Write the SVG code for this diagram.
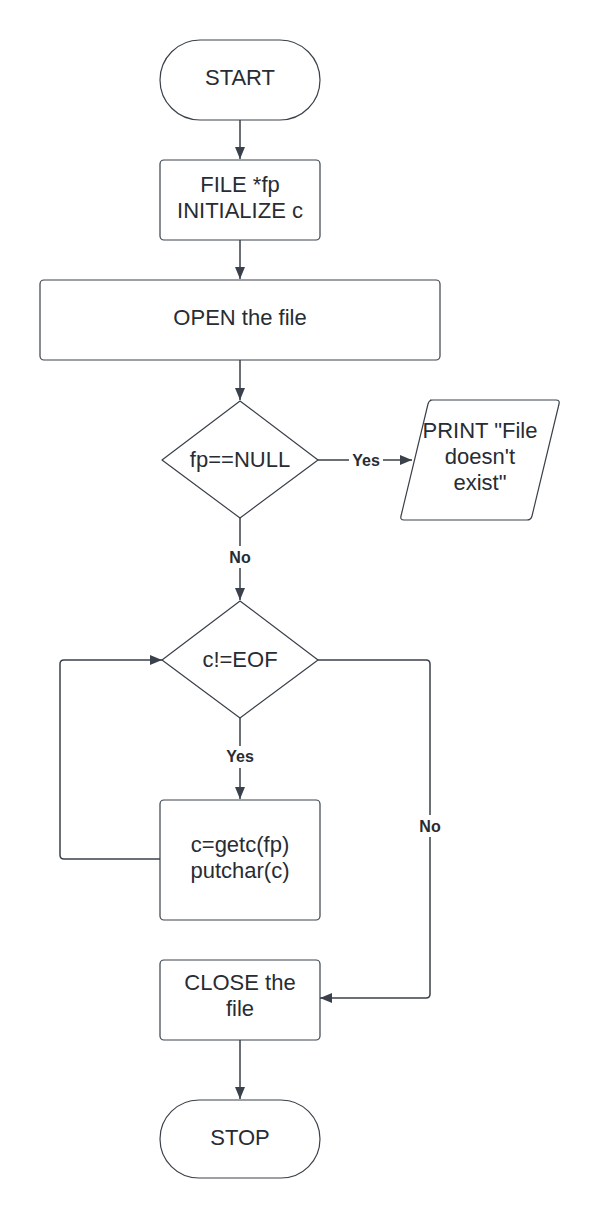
<svg xmlns="http://www.w3.org/2000/svg" width="600" height="1220" viewBox="0 0 600 1220">
<style>
.shape{fill:#ffffff;stroke:#3a414a;stroke-width:1.2}
.conn{fill:none;stroke:#3a414a;stroke-width:1.5}
.t{font-family:"Liberation Sans",Arial,sans-serif;font-size:22px;fill:#282c33;text-anchor:middle}
.lbl{font-family:"Liberation Sans",Arial,sans-serif;font-size:16px;font-weight:bold;fill:#282c33;text-anchor:middle}
.lblbg{fill:#ffffff}
</style>
<defs>
<marker id="arr" viewBox="0 0 12 10" refX="12" refY="5" markerWidth="12" markerHeight="10" markerUnits="userSpaceOnUse" orient="auto">
<path d="M0,0 L12,5 L0,10 Z" fill="#3a414a"/>
</marker>
</defs>
<rect width="600" height="1220" fill="#ffffff"/>
<g id="connectors">
<path class="conn" d="M240,120 L240,159" marker-end="url(#arr)"/>
<path class="conn" d="M240,240 L240,279" marker-end="url(#arr)"/>
<path class="conn" d="M240,360 L240,400" marker-end="url(#arr)"/>
<path class="conn" d="M318,460 L412,460" marker-end="url(#arr)"/>
<rect class="lblbg" x="349" y="450" width="34" height="20"/>
<text class="lbl" x="366" y="466">Yes</text>
<path class="conn" d="M240,518 L240,600" marker-end="url(#arr)"/>
<rect class="lblbg" x="226" y="546" width="28" height="22"/>
<text class="lbl" x="240" y="563">No</text>
<path class="conn" d="M240,718 L240,799" marker-end="url(#arr)"/>
<rect class="lblbg" x="222" y="746" width="36" height="22"/>
<text class="lbl" x="240" y="762">Yes</text>
<path class="conn" d="M160,859 L64,859 Q60,859 60,855 L60,664 Q60,660 64,660 L162,660" marker-end="url(#arr)"/>
<path class="conn" d="M318,660 L426,660 Q430,660 430,664 L430,994 Q430,998 426,998 L320,998" marker-end="url(#arr)"/>
<rect class="lblbg" x="416" y="815" width="28" height="22"/>
<text class="lbl" x="430" y="832">No</text>
<path class="conn" d="M240,1040 L240,1099" marker-end="url(#arr)"/>
</g>
<g id="start">
<rect class="shape" x="160" y="40" width="160" height="80" rx="40" ry="40"/>
<text class="t" x="240" y="85">START</text>
</g>
<g id="init">
<rect class="shape" x="160" y="160" width="160" height="80" rx="4"/>
<text class="t" x="240" y="192">FILE *fp</text>
<text class="t" x="240" y="218">INITIALIZE c</text>
</g>
<g id="open">
<rect class="shape" x="40" y="280" width="400" height="80" rx="4"/>
<text class="t" x="240" y="325">OPEN the file</text>
</g>
<g id="check-null">
<path class="shape" d="M240,401 L318,460 L240,518 L162,460 Z" stroke-linejoin="round"/>
<text class="t" x="240" y="467">fp==NULL</text>
</g>
<g id="print-error">
<path class="shape" d="M430,400 L556,400 Q560,400 559,404 L532,516 Q531,520 527,520 L404,520 Q400,520 401,516 L428,404 Q429,400 433,400 Z"/>
<text class="t" x="480" y="438">PRINT "File</text>
<text class="t" x="480" y="464">doesn't</text>
<text class="t" x="480" y="490">exist"</text>
</g>
<g id="check-eof">
<path class="shape" d="M240,601 L318,660 L240,718 L162,660 Z" stroke-linejoin="round"/>
<text class="t" x="240" y="667">c!=EOF</text>
</g>
<g id="read">
<rect class="shape" x="160" y="800" width="160" height="120" rx="4"/>
<text class="t" x="240" y="852">c=getc(fp)</text>
<text class="t" x="240" y="878">putchar(c)</text>
</g>
<g id="close">
<rect class="shape" x="160" y="960" width="160" height="80" rx="4"/>
<text class="t" x="240" y="990">CLOSE the</text>
<text class="t" x="240" y="1016">file</text>
</g>
<g id="stop">
<rect class="shape" x="160" y="1100" width="160" height="78" rx="39" ry="39"/>
<text class="t" x="240" y="1145">STOP</text>
</g>
</svg>
